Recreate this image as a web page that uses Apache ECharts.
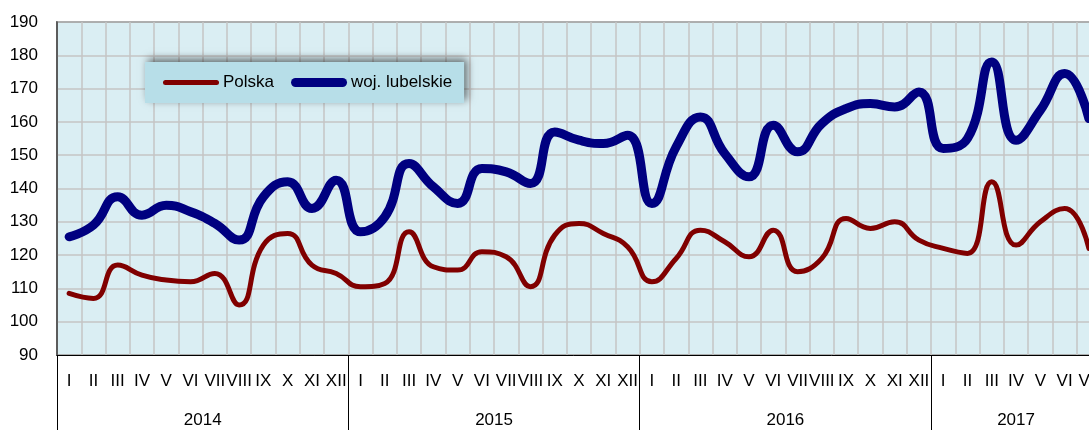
<!DOCTYPE html>
<html><head><meta charset="utf-8">
<script src="https://cdn.jsdelivr.net/npm/echarts@6/dist/echarts.min.js"></script>
<style>html,body{margin:0;padding:0;background:#fff}#c{width:1089px;height:430px}</style>
</head><body><div id="c"></div>
<script>
// ---- data ----
const years = ['2014', '2015', '2016', '2017'];
const monthsPerYear = [12, 12, 12, 7];
const monthNames = ['I','II','III','IV','V','VI','VII','VIII','IX','X','XI','XII'];
const seriesNames = ['Polska', 'woj. lubelskie'];
const polska = [
  108.5, 107, 117, 114, 112.5, 112, 114.5, 105, 123, 126.5, 117, 114.5,
  110.5, 111.5, 127, 116.5, 115.5, 121, 119.5, 110.5, 126, 129.5, 126.5, 122.5,
  112, 119, 127.5, 124, 119.5, 127.5, 115, 119, 131, 128, 130, 124.5,
  122, 120.5, 142, 123, 130, 134, 122
];
const lubelskie = [
  125.5, 129, 137.5, 132, 135, 133, 129.5, 124.5, 137.5, 142, 134, 142.5,
  127, 131.5, 147.5, 140.5, 135.5, 146, 145, 141.5, 157, 154.5, 153.5, 156,
  135.5, 152.5, 161.5, 150.5, 143.5, 159, 151, 159.5, 164, 165.5, 164.5, 169,
  152, 155, 178, 154.5, 163.5, 174.5, 161
];
const yMin = 90, yMax = 190, yStep = 10;

// ---- derived ----
const categories = [];
const yearStart = [];
let acc = 0;
monthsPerYear.forEach((n, i) => {
  yearStart.push(acc);
  for (let m = 0; m < n; m++) categories.push(monthNames[m]);
  acc += n;
});
const total = acc;
const yearCenter = monthsPerYear.map((n, i) => yearStart[i] + n / 2);

const FONT = "'Liberation Sans Narrow','Arial Narrow','Liberation Sans',Arial,sans-serif";
const FS = 17;
const BAND = 24.28;
const RED = '#800000', BLUE = '#000080';

const chart = echarts.init(document.getElementById('c'), null, {renderer: 'canvas'});
chart.setOption({
  animation: false,
  backgroundColor: '#ffffff',
  grid: {
    left: 57, top: 22, width: total * BAND, height: 333,
    outerBoundsMode: 'none', containLabel: false,
    show: true, backgroundColor: '#DAEEF3', borderColor: '#404040', borderWidth: 1.5
  },
  legend: {
    data: [
      {name: seriesNames[0], icon: 'path://M2.5,0 H53.5 A2.5,2.5 0 0 1 53.5,5 H2.5 A2.5,2.5 0 0 1 2.5,0 Z',
       itemStyle: {color: RED}},
      {name: seriesNames[1], icon: 'path://M4.5,0 H51.5 A4.5,4.5 0 0 1 51.5,9 H4.5 A4.5,4.5 0 0 1 4.5,0 Z',
       itemStyle: {color: BLUE}}
    ],
    left: 145, top: 62,
    padding: [12, 12, 12, 18],
    itemGap: 17,
    itemWidth: 56, itemHeight: 14,
    backgroundColor: '#B7DEE8',
    shadowBlur: 8, shadowColor: 'rgba(0,0,0,0.55)', shadowOffsetX: 3, shadowOffsetY: -3,
    textStyle: {fontFamily: FONT, fontSize: FS, color: '#000', padding: [0, 0, 0, -1]}
  },
  xAxis: [
    {
      type: 'category', data: categories, boundaryGap: true, position: 'bottom',
      axisLine: {lineStyle: {color: '#000', width: 1}},
      axisTick: {show: false},
      axisLabel: {interval: 0, fontFamily: FONT, fontSize: FS, color: '#000', margin: 18},
      splitLine: {show: true, interval: 0, lineStyle: {color: '#c4c4c4', width: 1.5}}
    },
    {
      type: 'category', data: categories, boundaryGap: true, position: 'bottom', offset: 0,
      axisLine: {show: false},
      axisLabel: {show: false},
      axisTick: {show: true, interval: (i) => yearStart.indexOf(i) >= 0, length: 80,
                 lineStyle: {color: '#000', width: 1}},
      splitLine: {show: false}
    },
    {
      type: 'value', min: 0, max: total, interval: 0.5, position: 'bottom', offset: 0,
      axisLine: {show: false}, axisTick: {show: false}, splitLine: {show: false},
      axisLabel: {
        fontFamily: FONT, fontSize: FS, color: '#000', margin: 57,
        formatter: (v) => { const k = yearCenter.indexOf(v); return k >= 0 ? years[k] : ''; }
      }
    }
  ],
  yAxis: {
    type: 'value', min: yMin, max: yMax, interval: yStep,
    axisLine: {show: true, lineStyle: {color: '#404040', width: 1.5}},
    axisTick: {show: false},
    axisLabel: {fontFamily: FONT, fontSize: FS, color: '#000', margin: 19},
    splitLine: {lineStyle: {color: '#c4c4c4', width: 1.5}}
  },
  series: [
    {
      name: seriesNames[0], type: 'line', data: polska, xAxisIndex: 0,
      smooth: 0.5, symbol: 'none', showSymbol: false,
      lineStyle: {color: RED, width: 5, cap: 'round'}, itemStyle: {color: RED}
    },
    {
      name: seriesNames[1], type: 'line', data: lubelskie, xAxisIndex: 0,
      smooth: 0.5, symbol: 'none', showSymbol: false,
      lineStyle: {color: BLUE, width: 9, cap: 'round'}, itemStyle: {color: BLUE}
    }
  ]
});
</script></body></html>
